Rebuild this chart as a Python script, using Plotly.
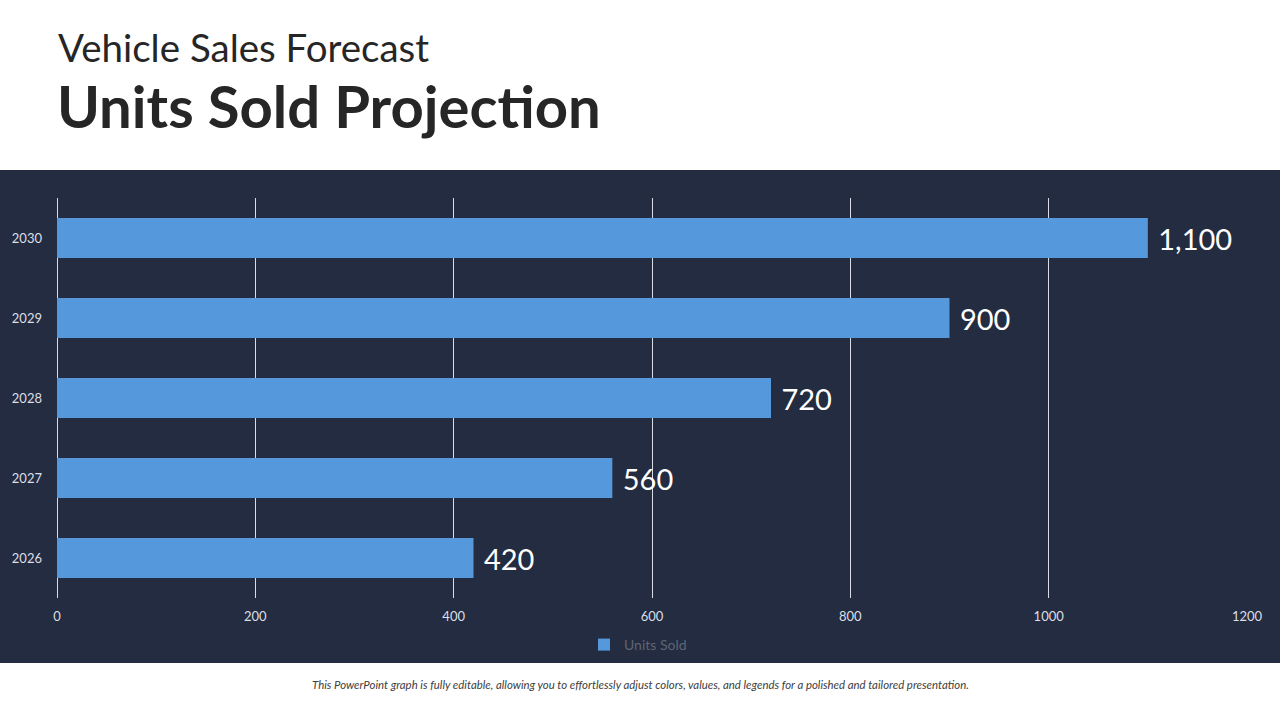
import plotly.graph_objects as go

years = ["2026", "2027", "2028", "2029", "2030"]
units_sold = [420, 560, 720, 900, 1100]
x_ticks = [0, 200, 400, 600, 800, 1000, 1200]

BAND = "#232C41"
BAR = "#5599DC"
FONT = "Lato, 'Open Sans', sans-serif"
PH = 400.0  # plot height in px
PW = 1190.0

fig = go.Figure()
fig.add_trace(go.Bar(
    y=years, x=units_sold, orientation="h", name="Units Sold",
    marker=dict(color=BAR, line=dict(width=0)),
    width=0.5,
    text=units_sold, texttemplate=" %{x:,}", textposition="outside",
    textfont=dict(size=29, color="white", family=FONT),
    cliponaxis=False,
))

fig.update_layout(
    width=1280, height=720,
    paper_bgcolor="white", plot_bgcolor=BAND,
    margin=dict(l=57, r=33, t=198, b=122),
    font=dict(family=FONT),
    showlegend=True,
    legend=dict(orientation="h", x=(584 - 57) / PW, xanchor="left", y=-47 / PH, yanchor="middle",
                itemwidth=30,
                font=dict(size=14, color="#5F6573"), bgcolor="rgba(0,0,0,0)"),
    xaxis=dict(range=[0, 1200], tickvals=x_ticks, showgrid=True, gridcolor="#D9DCE2",
               gridwidth=1, zeroline=True, zerolinecolor="#D9DCE2", zerolinewidth=1,
               tickfont=dict(size=13, color="#DCDFE6"), ticks="", showline=False,
               ticklabelstandoff=9),
    yaxis=dict(categoryorder="array", categoryarray=years, showgrid=False, zeroline=False,
               tickfont=dict(size=13, color="#DCDFE6"), ticks="", showline=False,
               ticklabelstandoff=14),
    shapes=[dict(type="rect", xref="paper", yref="paper", layer="below",
                 x0=-57 / PW, x1=1 + 33 / PW, y0=-65 / PH, y1=1 + 28 / PH,
                 fillcolor=BAND, line=dict(width=0))],
    annotations=[
        dict(text="Vehicle Sales Forecast", xref="paper", yref="paper",
             x=-1 / PW, y=1 + 151 / PH, xanchor="left", yanchor="middle", showarrow=False,
             font=dict(size=38.5, color="#262626", family=FONT)),
        dict(text="<b>Units Sold Projection</b>", xref="paper", yref="paper",
             x=-2 / PW, y=1 + 93 / PH, xanchor="left", yanchor="middle", showarrow=False,
             font=dict(size=58, color="#262626", family=FONT)),
        dict(text="<i>This PowerPoint graph is fully editable, allowing you to effortlessly adjust colors, values, and legends for a polished and tailored presentation.</i>",
             xref="paper", yref="paper", x=(640 - 57) / PW, y=-86 / PH, xanchor="center", yanchor="middle",
             showarrow=False, font=dict(size=11.4, color="#404040", family=FONT)),
    ],
)

fig.write_html("out.html")
